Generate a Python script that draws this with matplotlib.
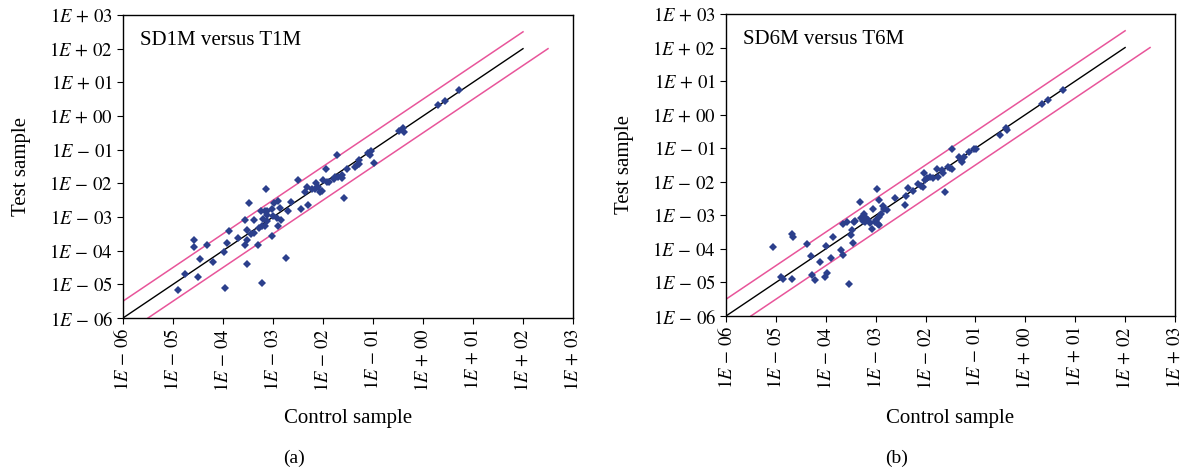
import numpy as np
import matplotlib
matplotlib.use("Agg")
import matplotlib.pyplot as plt
from matplotlib.ticker import FixedLocator, FixedFormatter, NullLocator

plt.rcParams['font.family'] = ['Liberation Serif', 'DejaVu Serif']
plt.rcParams['mathtext.fontset'] = 'stix'

# ---- data (log10 values) ----
a_logx = [-4.90, -4.76, -4.51, -4.59, -4.59, -4.47, -4.33, -4.19, -3.99, -3.97,
          -3.93, -3.89, -3.71, -3.57, -3.57, -3.53, -3.53, -3.53, -3.48, -3.45,
          -3.39, -3.39, -3.31, -3.28, -3.25, -3.23, -3.22, -3.21, -3.17, -3.16,
          -3.15, -3.13, -3.13, -3.12, -3.03, -3.03, -3.00, -2.99, -2.93, -2.91,
          -2.91, -2.87, -2.84, -2.75, -2.71, -2.65, -2.50, -2.44, -2.37, -2.33,
          -2.31, -2.22, -2.17, -2.14, -2.10, -2.06, -2.03, -2.01, -1.95, -1.92,
          -1.89, -1.79, -1.76, -1.73, -1.71, -1.63, -1.62, -1.58, -1.52, -1.36,
          -1.32, -1.29, -1.28, -1.10, -1.07, -1.04, -0.99, -0.48, -0.40, -0.38,
          0.30, 0.43, 0.72]
a_logy = [-5.16, -4.69, -4.78, -3.68, -3.90, -4.25, -3.83, -4.35, -4.05, -5.10,
          -3.77, -3.43, -3.62, -3.83, -3.10, -3.38, -3.68, -4.41, -2.59, -3.51,
          -3.48, -3.10, -3.82, -3.34, -2.82, -4.97, -3.28, -3.05, -2.81, -3.28,
          -2.16, -2.93, -3.11, -2.83, -2.77, -3.56, -2.96, -2.57, -3.03, -2.52,
          -3.26, -2.74, -3.09, -4.21, -2.82, -2.54, -1.90, -2.77, -2.25, -2.11,
          -2.63, -2.17, -2.17, -1.99, -2.11, -2.27, -2.24, -1.90, -1.58, -1.97,
          -1.96, -1.87, -1.80, -1.16, -1.82, -1.83, -1.76, -2.44, -1.58, -1.51,
          -1.47, -1.44, -1.30, -1.09, -1.15, -1.05, -1.39, -0.45, -0.36, -0.48,
          0.34, 0.45, 0.77]

b_logx = [-5.06, -4.89, -4.85, -4.67, -4.65, -4.67, -4.37, -4.29, -4.27, -4.21,
          -4.12, -4.01, -3.99, -3.97, -3.89, -3.85, -3.69, -3.65, -3.65, -3.57,
          -3.54, -3.50, -3.47, -3.45, -3.43, -3.41, -3.31, -3.29, -3.25, -3.23,
          -3.21, -3.19, -3.15, -3.11, -3.07, -3.05, -3.02, -2.99, -2.97, -2.96,
          -2.94, -2.94, -2.94, -2.89, -2.85, -2.83, -2.77, -2.62, -2.41, -2.39,
          -2.35, -2.25, -2.15, -2.10, -2.06, -2.03, -2.01, -1.97, -1.91, -1.85,
          -1.77, -1.75, -1.68, -1.65, -1.62, -1.56, -1.52, -1.47, -1.47, -1.32,
          -1.29, -1.27, -1.22, -1.13, -1.03, -0.99, -0.51, -0.39, -0.37, 0.33,
          0.45, 0.75]
b_logy = [-3.95, -4.84, -4.89, -3.57, -3.66, -4.91, -3.86, -4.20, -4.78, -4.94,
          -4.40, -4.84, -3.91, -4.71, -4.26, -3.66, -4.03, -4.17, -3.26, -3.21,
          -5.04, -3.59, -3.44, -3.82, -3.19, -3.17, -2.60, -3.09, -3.16, -2.95,
          -3.19, -3.09, -3.15, -3.24, -3.41, -2.80, -3.19, -3.14, -2.23, -3.26,
          -3.30, -2.54, -3.04, -2.96, -2.71, -2.81, -2.84, -2.48, -2.70, -2.42,
          -2.20, -2.27, -2.07, -2.12, -2.17, -1.75, -1.96, -1.90, -1.86, -1.88,
          -1.62, -1.85, -1.64, -1.74, -2.30, -1.57, -1.60, -1.62, -1.01, -1.25,
          -1.34, -1.40, -1.25, -1.12, -1.02, -1.01, -0.60, -0.41, -0.46, 0.32,
          0.45, 0.73]

panel_titles = ["SD1M versus T1M", "SD6M versus T6M"]
panel_letters = ["(a)", "(b)"]
tick_exps = [-6, -5, -4, -3, -2, -1, 0, 1, 2, 3]
tick_labels = [r"$1E\,-\,%02d$" % abs(e) if e < 0 else r"$1E\,+\,%02d$" % e for e in tick_exps]

identity_x = [1e-6, 1e2]       # y = x line
upper_x = [1e-6, 1e2]          # y = 3.16 x line
lower_x = [10**-5.5, 10**2.5]  # y = x / 3.16 line
fold = 10**0.5

W, H = 1186, 470
fig = plt.figure(figsize=(W/100, H/100), dpi=100)

rects = [(123, 15, 573, 318), (726, 14, 1175, 316)]
data = [(a_logx, a_logy), (b_logx, b_logy)]
navy = '#2b3f8c'
pink = '#e8559a'

for i, (x0, y0, x1, y1) in enumerate(rects):
    ax = fig.add_axes([x0/W, 1 - y1/H, (x1-x0)/W, (y1-y0)/H])
    ax.set_xscale('log')
    ax.set_yscale('log')
    ax.set_xlim(1e-6, 1e3)
    ax.set_ylim(1e-6, 1e3)
    lx, ly = data[i]
    ax.plot(identity_x, identity_x, color='black', lw=1.0, zorder=2)
    ax.plot(upper_x, [v*fold for v in upper_x], color=pink, lw=1.1, zorder=2)
    ax.plot(lower_x, [v/fold for v in lower_x], color=pink, lw=1.1, zorder=2)
    ax.plot(10**np.array(lx), 10**np.array(ly), linestyle='none', marker='D',
            markersize=3.7, color=navy, markeredgewidth=0, zorder=3)
    ticks = [10.0**e for e in tick_exps]
    ax.xaxis.set_major_locator(FixedLocator(ticks))
    ax.yaxis.set_major_locator(FixedLocator(ticks))
    ax.xaxis.set_minor_locator(NullLocator())
    ax.yaxis.set_minor_locator(NullLocator())
    ax.xaxis.set_major_formatter(FixedFormatter(tick_labels))
    ax.yaxis.set_major_formatter(FixedFormatter(tick_labels))
    ax.tick_params(axis='both', direction='out', length=4, width=0.8, labelsize=13.5, pad=3)
    for lab in ax.get_xticklabels():
        lab.set_rotation(90)
    for s in ax.spines.values():
        s.set_linewidth(1.0)
    ax.text(0.038, 0.915, panel_titles[i], transform=ax.transAxes, fontsize=15,
            ha='left', va='center')
    cx = (x0 + x1) / 2 / W
    fig.text(cx, 1 - 418/H, "Control sample", fontsize=15, ha='center', va='center')
    fig.text(cx - 54/W, 1 - 458/H, panel_letters[i], fontsize=14, ha='center', va='center')
    fig.text((x0 - 101)/W, 1 - (y0 + y1)/2/H, "Test sample", fontsize=15,
             rotation=90, ha='center', va='center')

fig.savefig("out.png", dpi=100)
